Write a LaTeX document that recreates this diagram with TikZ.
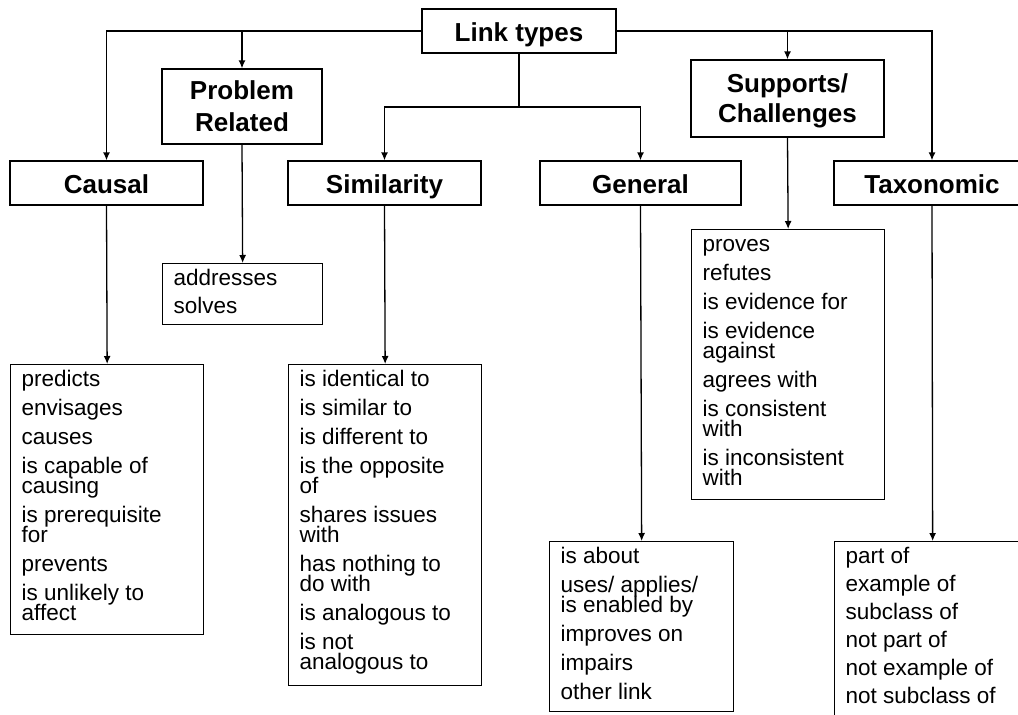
\documentclass[tikz,border=0pt]{standalone}
\usepackage{fontspec}
\setmainfont{Liberation Sans}
\usetikzlibrary{arrows.meta}
% list of link names, first baseline 22pt below the top of the box
\newcommand{\linklist}[3]{\parbox[t][#2][t]{#1}{\raggedright\lineskiplimit=-\maxdimen\rule{0pt}{22pt}#3}}

\begin{document}
\begin{tikzpicture}[x=1pt, y=-1pt,
    head/.style={draw, line width=1.3pt, font=\fontsize{26}{32}\selectfont\bfseries, align=center, inner sep=0pt, minimum height=44pt},
    headone/.style={head, text height=21pt, text depth=0pt},
    list/.style={draw, line width=1.3pt, anchor=north west, inner xsep=11pt, inner ysep=0pt, font=\fontsize{22.5}{20}\selectfont},
    link/.style={line width=1.3pt, -{Latex[length=8pt, width=7pt]}}]
    \clip (0,0) rectangle (1018,715);
    \fill[white] (0,0) rectangle (1018,715);
    % heads
    \node[headone, minimum width=194pt] (types) at (519,31) {Link types};
    \node[headone, minimum width=193pt] (causal) at (106.5,183) {Causal};
    \node[head, minimum width=160pt, minimum height=75pt] (problem) at (242,106.5) {Problem\\Related};
    \node[headone, minimum width=193pt] (similar) at (384.5,183) {Similarity};
    \node[headone, minimum width=201pt] (general) at (640.5,183) {General};
    \node[head, minimum width=193pt, minimum height=77pt, font=\fontsize{26}{30}\selectfont\bfseries] (supports) at (787.5,98.5) {Supports/\\\smash{Challenges}};
    \node[headone, minimum width=196pt] (taxon) at (932,183) {Taxonomic};
    % lists
    \node[list, minimum width=160pt] (problemlist) at (162,263) {\linklist{138pt}{61pt}{%
        addresses\\[8pt] solves}};
    \node[list, minimum width=193pt] (causallist) at (10,364) {\linklist{171pt}{270pt}{%
        predicts\\[9pt] envisages\\[9pt] causes\\[9pt] is capable of\\causing\\[9pt]
        is prerequisite\\for\\[9pt] prevents\\[9pt] is unlikely to\\affect}};
    \node[list, minimum width=193pt] (similarlist) at (288,364) {\linklist{171pt}{321pt}{%
        is identical to\\[9pt] is similar to\\[9pt] is different to\\[9pt] is the opposite\\of\\[9pt]
        shares issues\\with\\[9pt] has nothing to\\do with\\[9pt] is analogous to\\[9pt] is not\\analogous to}};
    \node[list, minimum width=193pt] (supportslist) at (691,229) {\linklist{171pt}{270pt}{%
        proves\\[9pt] refutes\\[9pt] is evidence for\\[9pt] is evidence\\against\\[9pt]
        agrees with\\[9pt] is consistent\\with\\[9pt] is inconsistent\\with}};
    \node[list, minimum width=184pt] (generallist) at (549,541) {\linklist{162pt}{170pt}{%
        is about\\[9pt] uses/ applies/\\is enabled by\\[9pt] improves on\\[9pt] impairs\\[9pt] other link}};
    \node[list, minimum width=196pt] (taxonlist) at (834,541) {\linklist{174pt}{200pt}{%
        part of\\[8pt] example of\\[8pt] subclass of\\[8pt] not part of\\[8pt]
        not example of\\[8pt] not subclass of}};
    % connectors
    \coordinate (split) at (519,107);
    \draw[link] (types.west) -| (causal.north);
    \draw[link] (types.west) -| (problem.north);
    \draw[line width=1.3pt] (types.south) -- (split);
    \draw[link] (split) -| (similar.north);
    \draw[link] (split) -| (general.north);
    \draw[link] (types.east) -| (supports.north);
    \draw[link] (types.east) -| (taxon.north);
    \draw[link] (causal.south) -- (causallist.north);
    \draw[link] (problem.south) -- (problemlist.north);
    \draw[link] (similar.south) -- (similarlist.north);
    \draw[link] (general.south) -- (generallist.north);
    \draw[link] (supports.south) -- (supportslist.north);
    \draw[link] (taxon.south) -- (taxonlist.north);
\end{tikzpicture}
\end{document}
